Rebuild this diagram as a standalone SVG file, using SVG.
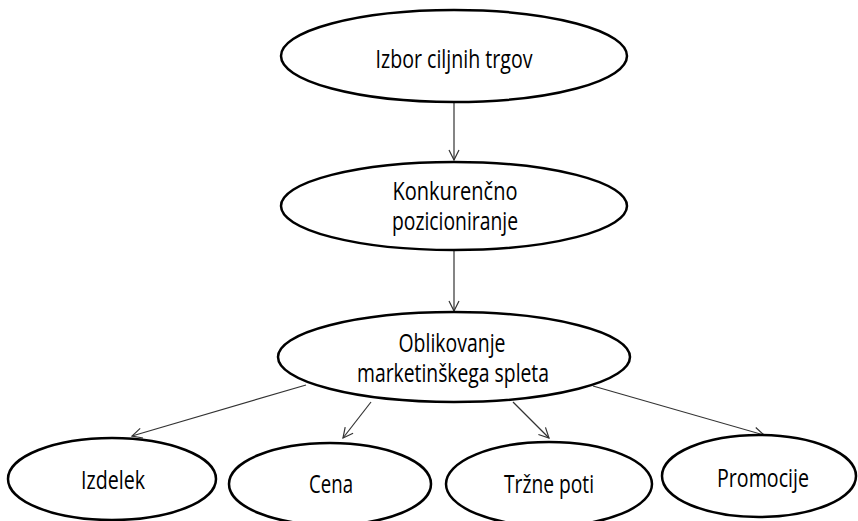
<svg xmlns="http://www.w3.org/2000/svg" width="858" height="521" viewBox="0 0 858 521">
<style>
.n ellipse{fill:#fff;stroke:#000;stroke-width:2.5}
text{font-family:"Open Sans","Liberation Sans",sans-serif;font-size:25px;fill:#000;text-anchor:middle}
.c line{stroke:#333;stroke-width:1.2;fill:none}
</style>
<defs>
<marker id="a" viewBox="0 0 12 12" refX="11" refY="6" markerWidth="12" markerHeight="12" markerUnits="userSpaceOnUse" orient="auto">
<path d="M1,1 L11,6 L1,11" fill="none" stroke="#333" stroke-width="1.2"/>
</marker>
</defs>
<g class="c">
<line x1="454" y1="102" x2="454" y2="160" marker-end="url(#a)"/>
<line x1="454" y1="250" x2="454" y2="311" marker-end="url(#a)"/>
<line x1="306" y1="385" x2="132" y2="436" marker-end="url(#a)"/>
<line x1="371" y1="402" x2="343" y2="438" marker-end="url(#a)"/>
<line x1="513" y1="402" x2="549" y2="438" marker-end="url(#a)"/>
<line x1="593" y1="386" x2="764" y2="435" marker-end="url(#a)"/>
</g>
<g id="n1" class="n"><ellipse cx="454" cy="56" rx="173" ry="46"/><text x="454" y="68" textLength="157" lengthAdjust="spacingAndGlyphs">Izbor ciljnih trgov</text></g>
<g id="n2" class="n"><ellipse cx="454" cy="206" rx="173" ry="44"/><text x="455" y="200" textLength="125" lengthAdjust="spacingAndGlyphs">Konkurenčno</text><text x="455" y="230" textLength="126" lengthAdjust="spacingAndGlyphs">pozicioniranje</text></g>
<g id="n3" class="n"><ellipse cx="454" cy="357" rx="176" ry="45"/><text x="452" y="352" textLength="107" lengthAdjust="spacingAndGlyphs">Oblikovanje</text><text x="453" y="382" textLength="192" lengthAdjust="spacingAndGlyphs">marketinškega spleta</text></g>
<g id="n4" class="n"><ellipse cx="112" cy="479" rx="104" ry="41"/><text x="113" y="489" textLength="64" lengthAdjust="spacingAndGlyphs">Izdelek</text></g>
<g id="n5" class="n"><ellipse cx="330" cy="484" rx="101" ry="41"/><text x="331" y="493" textLength="44" lengthAdjust="spacingAndGlyphs">Cena</text></g>
<g id="n6" class="n"><ellipse cx="549" cy="484" rx="103" ry="42"/><text x="549" y="493" textLength="90" lengthAdjust="spacingAndGlyphs">Tržne poti</text></g>
<g id="n7" class="n"><ellipse cx="759" cy="476" rx="97" ry="41"/><text x="763" y="487" textLength="92" lengthAdjust="spacingAndGlyphs">Promocije</text></g>
</svg>
